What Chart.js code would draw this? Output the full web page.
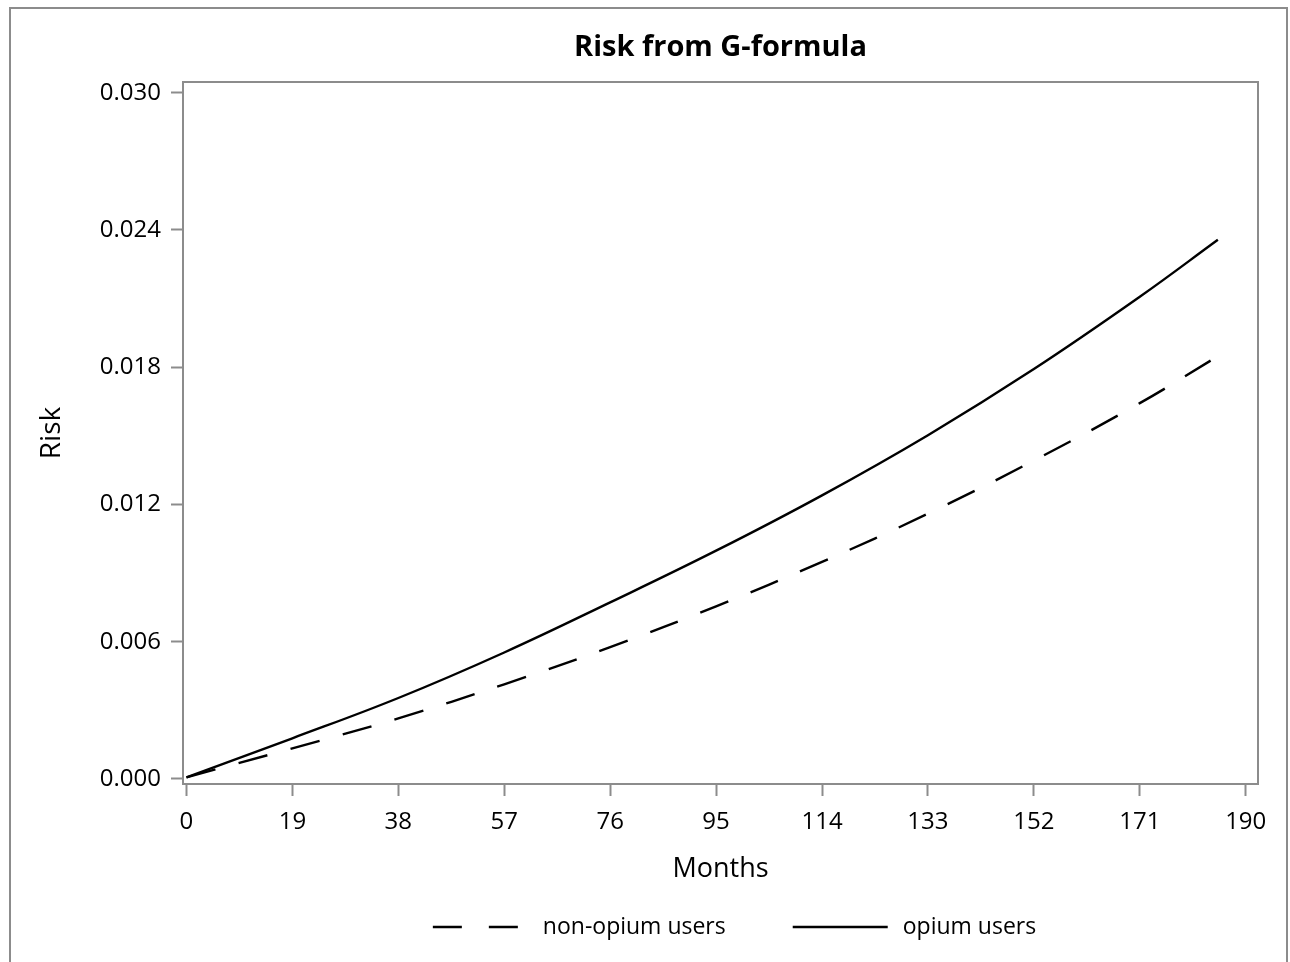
<!DOCTYPE html>
<html>
<head>
<meta charset="utf-8">
<script src="https://cdn.jsdelivr.net/npm/chart.js@4.4.1/dist/chart.umd.min.js"></script>
<style>
  html, body { margin: 0; padding: 0; background: #fff; }
  #wrap { width: 1290px; height: 962px; }
</style>
</head>
<body>
<div id="wrap"><canvas id="riskChart"></canvas></div>
<script>
// values
const months = [0, 19, 38, 57, 76, 95, 114, 133, 152, 171, 185];
const opiumRisk = [0.00007, 0.00178, 0.00354, 0.00553, 0.00772, 0.00998, 0.01240, 0.01503, 0.01792, 0.02108, 0.02357];
const nonOpiumRisk = [0.00007, 0.00134, 0.00265, 0.00414, 0.00576, 0.00755, 0.00949, 0.01160, 0.01392, 0.01643, 0.01848];
const xTicks = [0, 19, 38, 57, 76, 95, 114, 133, 152, 171, 190];
const yTicks = [0, 0.006, 0.012, 0.018, 0.024, 0.030];
const seriesNames = ['non-opium users', 'opium users'];

const FONT = '"Open Sans", "Noto Sans", sans-serif';
const GRAY = '#8c8c8c';
const DASH = [30, 24];

function toPoints(values) {
    return months.map((m, i) => ({ x: m, y: values[i] }));
}

// frame round the plot, outer border and the legend under the axis
const framePlugin = {
    id: 'frame',
    beforeDraw(chart) {
        const ctx = chart.ctx;
        ctx.save();
        ctx.strokeStyle = GRAY;
        ctx.lineWidth = 2;
        ctx.strokeRect(10, 8, 1277, 970);
        ctx.restore();
    },
    afterDraw(chart) {
        const { ctx, chartArea: a } = chart;
        ctx.save();
        ctx.strokeStyle = GRAY;
        ctx.lineWidth = 2;
        ctx.strokeRect(a.left, a.top, a.right - a.left, a.bottom - a.top);

        // legend
        ctx.font = '23px ' + FONT;
        ctx.textBaseline = 'middle';
        ctx.fillStyle = '#000';
        const sampleW = 95, textGap = 15, itemGap = 67, y = 927;
        const items = chart.data.datasets.map(ds => ({
            label: ds.label, dash: ds.borderDash || [], w: ctx.measureText(ds.label).width
        }));
        let total = 0;
        items.forEach((it, i) => { total += sampleW + textGap + it.w + (i ? itemGap : 0); });
        let x = (a.left + a.right) / 2 + 14 - total / 2;
        items.forEach(it => {
            ctx.beginPath();
            ctx.setLineDash(it.dash.length ? [29, 27] : []);
            ctx.strokeStyle = '#000';
            ctx.lineWidth = 2.4;
            ctx.moveTo(x, y);
            ctx.lineTo(x + sampleW, y);
            ctx.stroke();
            ctx.setLineDash([]);
            ctx.fillText(it.label, x + sampleW + textGap, y);
            x += sampleW + textGap + it.w + itemGap;
        });
        ctx.restore();
    }
};

new Chart(document.getElementById('riskChart'), {
    type: 'line',
    data: {
        datasets: [{
            label: seriesNames[0],
            data: toPoints(nonOpiumRisk),
            borderColor: '#000',
            borderWidth: 2.4,
            borderDash: DASH,
            pointRadius: 0,
            tension: 0.4,
            fill: false
        }, {
            label: seriesNames[1],
            data: toPoints(opiumRisk),
            borderColor: '#000',
            borderWidth: 2.4,
            pointRadius: 0,
            tension: 0.4,
            fill: false
        }]
    },
    options: {
        responsive: true,
        maintainAspectRatio: false,
        animation: false,
        layout: { padding: { left: 0, right: 32, top: 0, bottom: 68 } },
        plugins: {
            legend: { display: false },
            tooltip: { enabled: false },
            title: {
                display: true,
                text: 'Risk from G-formula',
                fullSize: false,
                color: '#000',
                font: { family: FONT, size: 29, weight: 'bold', lineHeight: 1.2 },
                padding: { top: 30, bottom: 17.2 }
            }
        },
        scales: {
            x: {
                type: 'linear',
                min: -0.62,
                max: 192.2,
                afterBuildTicks: s => { s.ticks = xTicks.map(v => ({ value: v })); },
                afterFit: s => { s.height = 110; },
                ticks: {
                    color: '#000',
                    font: { family: FONT, size: 24 },
                    padding: 12,
                    maxRotation: 0,
                    autoSkip: false
                },
                grid: { drawOnChartArea: false, tickLength: 12, tickColor: GRAY, tickWidth: 2 },
                border: { display: false },
                title: {
                    display: true,
                    text: 'Months',
                    color: '#000',
                    font: { family: FONT, size: 27, lineHeight: 1.2 },
                    padding: { top: 0, bottom: 8 }
                }
            },
            y: {
                min: -0.00022,
                max: 0.03047,
                afterBuildTicks: s => { s.ticks = yTicks.map(v => ({ value: v })); },
                afterFit: s => { s.width = 183; },
                ticks: {
                    color: '#000',
                    font: { family: FONT, size: 24 },
                    padding: 10,
                    callback: v => v.toFixed(3)
                },
                grid: { drawOnChartArea: false, tickLength: 12, tickColor: GRAY, tickWidth: 2 },
                border: { display: false },
                title: {
                    display: true,
                    text: 'Risk',
                    color: '#000',
                    font: { family: FONT, size: 28, lineHeight: 1.2 },
                    padding: { top: 35, bottom: 0 }
                }
            }
        }
    },
    plugins: [framePlugin]
});
</script>
</body>
</html>
